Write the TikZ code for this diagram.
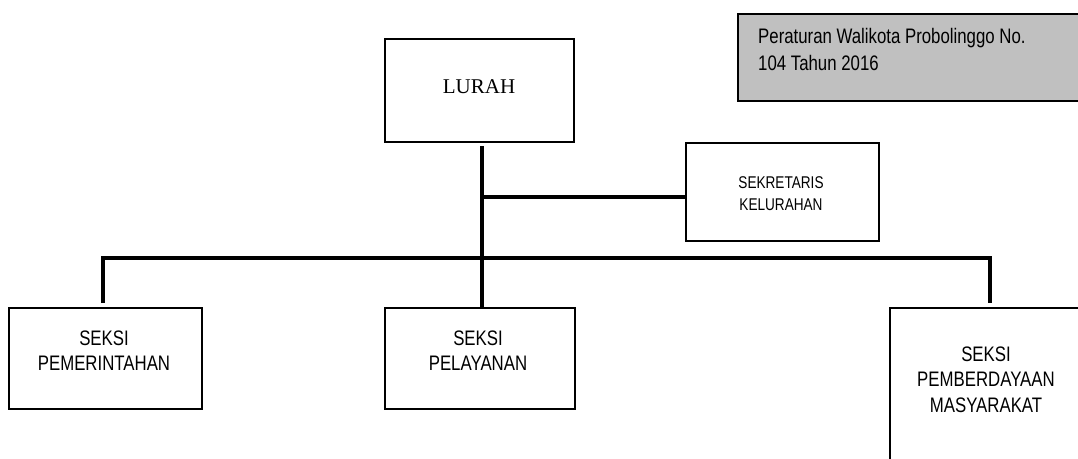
\documentclass[tikz,border=0pt]{standalone}
\usepackage{fontspec}
\setmainfont{Liberation Serif}
\newfontfamily\narrowsans[FakeStretch=0.8]{Liberation Sans}
\definecolor{boxgray}{HTML}{C0C0C0}
\begin{document}
\begin{tikzpicture}[x=1pt,y=-1pt,
  box/.style={draw=black, line width=1.6pt, rectangle, inner sep=0pt, anchor=north west},
  conn/.style={line width=4pt, line join=miter},
  seksitext/.style={align=center, inner sep=0pt, font={\narrowsans\fontsize{21}{25.5}\selectfont}},
  sektext/.style={align=center, inner sep=0pt, font={\narrowsans\fontsize{17}{21.5}\selectfont}},
  perdatext/.style={align=left, inner sep=0pt, anchor=north west, font={\narrowsans\fontsize{21}{27}\selectfont}},
  lurahtext/.style={inner sep=0pt, font={\fontsize{21}{25}\selectfont}}]
\useasboundingbox (0,0) rectangle (1078,458);
\fill[white] (0,0) rectangle (1078,458);

% boxes
\node[box, minimum width=189pt, minimum height=103pt] (lurah) at (384,38) {};
\node[box, minimum width=193pt, minimum height=98pt] (sek) at (685,142) {};
\node[box, fill=boxgray, line width=2pt, minimum width=345pt, minimum height=87pt] (perda) at (737,13) {};
\node[box, minimum width=193pt, minimum height=101pt] (pem) at (8,307) {};
\node[box, minimum width=190pt, minimum height=101pt] (pel) at (384,307) {};
\node[box, minimum width=194pt, minimum height=165pt] (pmb) at (889,307) {};

% texts
\node[lurahtext] (lurahT) at (479,87) {LURAH};
\node[sektext] (sekT) at (781,193.5) {SEKRETARIS\\KELURAHAN};
\node[perdatext] (perdaT) at (758,28) {Peraturan Walikota Probolinggo No.\\104 Tahun 2016};
\node[seksitext] (pemT) at (104,350.5) {SEKSI\\PEMERINTAHAN};
\node[seksitext] (pelT) at (478,350.5) {SEKSI\\PELAYANAN};
\node[seksitext] (pmbT) at (986,379.5) {SEKSI\\PEMBERDAYAAN\\MASYARAKAT};

% connectors
\coordinate (v) at (482,146);
\coordinate (br) at (482,197);
\coordinate (barL) at (103,303);
\coordinate (barR) at (990,303);
\coordinate (barY) at (0,258);
\draw[conn] (v) -- (v |- pel.north);
\draw[conn] (br) -- (br -| sek.west);
\draw[conn] (barL) -- (barL |- barY) -- (barR |- barY) -- (barR);
\end{tikzpicture}
\end{document}
